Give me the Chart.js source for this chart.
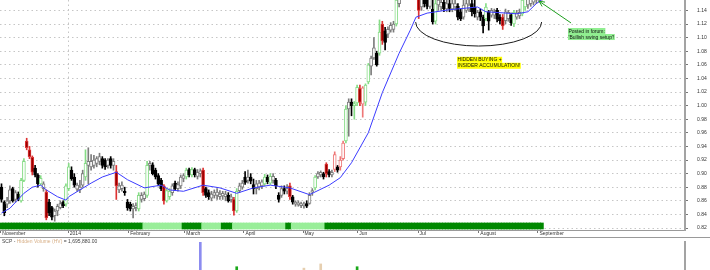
<!DOCTYPE html>
<html>
<head>
<meta charset="utf-8">
<script src="https://cdn.jsdelivr.net/npm/chart.js@4/dist/chart.umd.min.js"></script>
<style>
  body { margin: 0; background: #fff; }
  #wrap { width: 710px; height: 270px; overflow: hidden; }
  #price-box { position: relative; width: 710px; height: 237px; }
  #hv-box { position: relative; width: 710px; height: 33px; border-top: 1px solid #9a9a9a; box-sizing: border-box; }
</style>
</head>
<body>
<div id="wrap">
  <div id="price-box"><canvas id="price"></canvas></div>
  <div id="hv-box"><canvas id="hv"></canvas></div>
</div>
<script>
// daily bars, late Nov 2013 -> end Aug 2014
const opens = [
  .880,.858,.855,.860,.878,.862,.870,.860,.890,.948,
  .935,.924,.908,.898,.885,.878,.873,.858,.850,.838,
  .845,.850,.858,.855,.878,.905,.895,.877,.876,.883,
  .895,.912,.910,.912,.915,.918,.922,.920,.912,.922,
  .912,.903,.876,.878,.874,.858,.855,.848,.850,.848,
  .862,.863,.868,.912,.913,.905,.897,.890,.882,.860,
  .866,.872,.886,.878,.882,.893,.895,.906,.898,.906,
  .896,.900,.905,.878,.872,.864,.868,.868,.866,.867,
  .866,.868,.862,.862,.845,.875,.880,.895,.890,.895,
  .884,.878,.880,.882,.885,.895,.886,.890,.890,.868,
  .868,.878,.874,.882,.866,.855,.854,.853,.853,.856,
  .856,.873,.879,.895,.898,.900,.914,.903,.898,.906,
  .910,.910,.922,.948,.995,1.005,1.000,1.004,1.025,1.002,
  1.005,1.035,1.058,1.070,1.077,1.077,1.120,1.110,1.105,1.111,
  1.112,1.120,1.150,1.160,1.175,1.185,1.180,1.188,1.172,1.170,
  1.145,1.160,1.158,1.146,1.142,1.124,1.148,1.145,1.152,1.142,
  1.150,1.142,1.145,1.146,1.138,1.130,1.140,1.142,1.150,1.145,
  1.130,1.138,1.130,1.128,1.138,1.133,1.133,1.140,1.130,1.130,
  1.125,1.128,1.133,1.120,1.130,1.132,1.135,1.145,1.148,1.150,
  1.152,1.155,1.158,1.160
];
const highs = [
  .885,.860,.865,.882,.880,.875,.873,.893,.922,.952,
  .940,.926,.912,.900,.897,.888,.876,.862,.852,.848,
  .855,.860,.860,.885,.915,.910,.900,.886,.890,.905,
  .935,.938,.928,.927,.925,.930,.925,.922,.922,.925,
  .922,.912,.886,.888,.880,.862,.858,.856,.857,.872,
  .872,.873,.918,.918,.916,.908,.900,.893,.884,.878,
  .878,.885,.889,.888,.898,.900,.908,.908,.909,.908,
  .906,.907,.908,.880,.876,.874,.876,.878,.875,.874,
  .874,.872,.870,.865,.878,.886,.890,.903,.905,.900,
  .892,.890,.890,.891,.899,.898,.900,.900,.893,.872,
  .882,.882,.884,.886,.868,.860,.860,.858,.858,.860,
  .872,.878,.897,.903,.904,.902,.916,.906,.905,.932,
  .912,.925,.948,1.000,1.010,1.010,1.006,1.030,1.030,1.028,
  1.032,1.062,1.073,1.100,1.080,1.126,1.124,1.115,1.116,1.122,
  1.124,1.160,1.165,1.180,1.190,1.200,1.195,1.195,1.180,1.175,
  1.170,1.170,1.165,1.165,1.155,1.155,1.160,1.160,1.158,1.156,
  1.155,1.155,1.155,1.150,1.142,1.155,1.156,1.155,1.160,1.155,
  1.140,1.142,1.133,1.150,1.140,1.143,1.142,1.143,1.134,1.134,
  1.142,1.140,1.136,1.140,1.140,1.142,1.160,1.165,1.165,1.168,
  1.170,1.170,1.170,1.175
];
const lows = [
  .858,.838,.850,.856,.858,.858,.860,.858,.888,.935,
  .922,.898,.895,.880,.883,.874,.832,.838,.832,.830,
  .838,.848,.850,.852,.875,.890,.880,.874,.872,.880,
  .890,.885,.905,.908,.910,.913,.908,.906,.908,.908,
  .905,.862,.872,.874,.868,.846,.845,.835,.845,.845,
  .858,.860,.865,.905,.898,.892,.882,.875,.855,.858,
  .862,.868,.875,.874,.878,.888,.892,.895,.895,.895,
  .892,.895,.868,.865,.862,.860,.864,.862,.862,.862,
  .860,.858,.858,.839,.843,.872,.877,.884,.886,.885,
  .870,.870,.876,.878,.882,.885,.884,.886,.878,.858,
  .865,.870,.870,.862,.855,.852,.852,.850,.849,.850,
  .855,.868,.876,.893,.895,.892,.895,.895,.895,.903,
  .902,.905,.920,.945,.955,.985,.980,1.000,1.000,.983,
  1.000,1.032,1.045,1.068,1.058,1.074,1.090,1.082,1.100,1.108,
  1.108,1.117,1.145,1.158,1.165,1.175,1.170,1.165,1.158,1.128,
  1.140,1.145,1.142,1.143,1.120,1.120,1.140,1.140,1.138,1.138,
  1.138,1.138,1.140,1.126,1.125,1.127,1.137,1.138,1.132,1.130,
  1.126,1.125,1.107,1.125,1.111,1.130,1.128,1.123,1.120,1.112,
  1.120,1.124,1.118,1.116,1.127,1.128,1.132,1.140,1.143,1.146,
  1.148,1.150,1.152,1.155
];
const closes = [
  .862,.842,.860,.876,.860,.872,.862,.890,.918,.938,
  .925,.902,.898,.885,.893,.885,.835,.842,.836,.845,
  .852,.856,.853,.882,.910,.892,.883,.883,.880,.900,
  .915,.918,.918,.920,.922,.925,.912,.910,.920,.912,
  .918,.882,.882,.883,.872,.850,.848,.852,.853,.868,
  .868,.870,.912,.915,.900,.895,.885,.878,.860,.875,
  .874,.882,.878,.884,.895,.897,.905,.898,.906,.898,
  .902,.904,.872,.868,.866,.870,.872,.873,.870,.871,
  .870,.860,.866,.845,.874,.882,.886,.887,.895,.889,
  .878,.885,.886,.888,.895,.888,.896,.896,.882,.862,
  .878,.874,.878,.866,.858,.858,.857,.856,.855,.852,
  .868,.875,.895,.900,.902,.895,.900,.898,.902,.928,
  .905,.920,.945,.995,1.005,1.000,1.003,1.027,1.005,1.026,
  1.030,1.060,1.070,1.085,1.060,1.108,1.095,1.093,1.112,1.118,
  1.120,1.155,1.158,1.175,1.185,1.180,1.190,1.170,1.165,1.140,
  1.165,1.150,1.146,1.158,1.123,1.150,1.155,1.152,1.142,1.150,
  1.143,1.150,1.150,1.130,1.128,1.148,1.150,1.148,1.138,1.135,
  1.137,1.130,1.117,1.145,1.124,1.140,1.138,1.127,1.125,1.117,
  1.138,1.137,1.122,1.137,1.136,1.137,1.155,1.160,1.158,1.160,
  1.162,1.165,1.165,1.168
];
// bars the chart paints green / red (volume signal)
const greenIdx = [7,8,14,23,24,30,49,52,59,60,66,68,84,94,96,112,123,126,127,130,131,135,141,155,173,183,186,187];
const redIdx = [9,10,11,16,41,58,72,83,103,116,119,121,122,128,129,136,149,179];

// moving average, read at these bar positions
const maIdx = [0,3,8,11,14,16,20,23,24,28,32,36,41,45,51,57,60,65,72,78,84,90,96,103,110,117,121,125,131,136,142,146,148,152,160,170,173,184,188,191,193];
const maVal = [.842,.849,.871,.880,.883,.876,.866,.861,.866,.876,.886,.895,.902,.891,.879,.883,.876,.874,.883,.879,.871,.879,.883,.879,.869,.883,.894,.916,.960,1.019,1.077,1.111,1.130,1.136,1.141,1.145,1.138,1.135,1.138,1.150,1.156];

// indicator band: [firstBar, lastBar, 1 = strong / 0 = weak]
const bandRuns = [[0,50,1],[51,64,0],[65,71,1],[72,78,0],[79,82,1],[83,101,0],[102,103,1],[104,115,0],[116,193,1]];

// axis ticks
const monthLabels = ['November','2014','February','March','April','May','Jun','Jul','August','September'];
const monthTickIdx = [-0.2, 23.9, 45.5, 65.5, 86.6, 107.7, 127.3, 148.75, 170.5, 191.6];
const yTickVals = [0.82,0.84,0.86,0.88,0.90,0.92,0.94,0.96,0.98,1.00,1.02,1.04,1.06,1.08,1.10,1.12,1.14];

// hidden volume panel
const hvIdx = [71, 84, 108, 114, 127];
const hvVal = [3.0, 0.35, 0.2, 0.65, 0.35];
const hvTone = ['b', 'g', 't', 't', 'g'];
const hvLatest = '1,695,880.00';

const X_MIN = -0.536, X_MAX = 244.1;
const Y_MIN = 0.81706, Y_MAX = 1.1553;
const FONT = '"Liberation Sans", Arial, sans-serif';

Chart.defaults.font.family = FONT;
Chart.defaults.font.size = 5;
Chart.defaults.color = '#333';
Chart.defaults.animation = false;
Chart.defaults.plugins.legend.display = false;
Chart.defaults.plugins.tooltip.enabled = false;

const PAL = {
  k: { edge: '#7c7c7c', solid: '#000000', solidEdge: '#000000' },
  g: { edge: '#86dc86', solid: '#1f9a1f', solidEdge: '#1f9a1f' },
  r: { edge: '#ee7777', solid: '#990000', solidEdge: '#dd3333' }
};
const toneOf = i => greenIdx.includes(i) ? 'g' : (redIdx.includes(i) ? 'r' : 'k');
const isFilled = i => closes[i] < opens[i];

const bodyData = opens.map((o, i) => ({ x: i, y: [o, closes[i]] }));
const wickData = opens.map((o, i) => ({ x: i, y: [lows[i], highs[i]] }));
const bodyFill = opens.map((o, i) => isFilled(i) ? PAL[toneOf(i)].solid : '#ffffff');
const bodyEdge = opens.map((o, i) => isFilled(i) ? PAL[toneOf(i)].solidEdge : PAL[toneOf(i)].edge);

const bandData = [], bandColor = [];
bandRuns.forEach(([a, b, s]) => {
  for (let i = a; i <= b; i++) {
    bandData.push({ x: i, y: [0.8185, 0.8274] });
    bandColor.push(s ? '#008800' : '#99ee99');
  }
});

// keep the axes from reserving room for half-labels
const noPad = s => { s.paddingTop = 0; s.paddingBottom = 0; s.paddingLeft = 0; s.paddingRight = 0; };

// annotations drawn on top: bowl, notes, arrow
const annotate = {
  id: 'annotate',
  afterDatasetsDraw(chart) {
    const { ctx, scales: { x, y } } = chart;
    ctx.save();
    const cx = x.getPixelForValue(170.4), cy = y.getPixelForValue(1.1229);
    const rx = x.getPixelForValue(170.4 + 22.5) - cx;
    const ry = y.getPixelForValue(1.1229 - 0.0353) - cy;
    ctx.strokeStyle = '#1a1a1a';
    ctx.lineWidth = 1;
    ctx.beginPath();
    ctx.ellipse(cx, cy, rx, ry, 0, 0, Math.PI);
    ctx.stroke();

    // arrow to the last bar
    const x0 = x.getPixelForValue(203.4), y0 = y.getPixelForValue(1.1215);
    const x1 = x.getPixelForValue(192.0), y1 = y.getPixelForValue(1.1535);
    const ang = Math.atan2(y1 - y0, x1 - x0);
    ctx.strokeStyle = '#1e9e1e';
    ctx.beginPath();
    ctx.moveTo(x0, y0); ctx.lineTo(x1, y1);
    ctx.moveTo(x1, y1); ctx.lineTo(x1 - 6 * Math.cos(ang - 0.45), y1 - 6 * Math.sin(ang - 0.45));
    ctx.moveTo(x1, y1); ctx.lineTo(x1 - 6 * Math.cos(ang + 0.45), y1 - 6 * Math.sin(ang + 0.45));
    ctx.stroke();

    const tag = (lines, ix, py, bg) => {
      const px = x.getPixelForValue(ix), top = y.getPixelForValue(py);
      ctx.font = '5px ' + FONT;
      ctx.textBaseline = 'middle';
      lines.forEach((t, k) => {
        const w = ctx.measureText(t).width;
        ctx.fillStyle = bg;
        ctx.fillRect(px, top + k * 6, w + 1, 6);
        ctx.fillStyle = '#111';
        ctx.fillText(t, px + 0.5, top + k * 6 + 3.2);
      });
    };
    tag(['HIDDEN BUYING +', 'INSIDER ACCUMULATION!'], 162.7, 1.0718, '#ffff00');
    tag(['Posted in forum:', "'Bullish swing setup'!"], 202.3, 1.1141, '#90ee90');
    ctx.restore();
  }
};

new Chart(document.getElementById('price'), {
  type: 'bar',
  data: {
    datasets: [
      { type: 'line', data: maIdx.map((v, k) => ({ x: v, y: maVal[k] })), borderColor: '#3b3bff', borderWidth: 1, pointRadius: 0, fill: false, tension: 0, order: 1 },
      { data: bodyData, backgroundColor: bodyFill, borderColor: bodyEdge, borderWidth: 1, borderSkipped: false, barThickness: 3, minBarLength: 1, grouped: false, order: 2 },
      { data: wickData, backgroundColor: bodyEdge, barThickness: 1, grouped: false, order: 3 },
      { data: bandData, backgroundColor: bandColor, barThickness: 3, grouped: false, order: 4 }
    ]
  },
  options: {
    responsive: true,
    maintainAspectRatio: false,
    layout: { padding: 0 },
    scales: {
      x: {
        type: 'linear', min: X_MIN, max: X_MAX, offset: false,
        afterBuildTicks: s => { s.ticks = monthTickIdx.map(v => ({ value: v })); },
        afterFit: s => { s.height = 7; noPad(s); },
        ticks: { callback: (v, k) => ' ' + monthLabels[k], align: 'start', padding: -2, autoSkip: false, maxRotation: 0, color: '#333' },
        grid: { offset: false, color: c => (c.tick && monthLabels[c.index] === '2014') ? '#c6c6c6' : 'rgba(0,0,0,0)', tickColor: '#777', tickLength: 3 },
        border: { color: '#9a9a9a', width: 1, dash: [1.5, 3] }
      },
      y: {
        position: 'right', min: Y_MIN, max: Y_MAX,
        afterBuildTicks: s => { s.ticks = yTickVals.map(v => ({ value: v })); },
        afterFit: s => { s.width = 25; noPad(s); },
        ticks: { callback: v => v.toFixed(2), padding: 9, color: '#333', autoSkip: false },
        grid: { color: '#c6c6c6', tickColor: '#777', tickLength: 3 },
        border: { color: '#a3a3a3', width: 2, dash: [1.5, 3] }
      }
    }
  },
  plugins: [annotate]
});

// lower panel title
const hvTitle = {
  id: 'hvTitle',
  afterDraw(chart) {
    const ctx = chart.ctx;
    ctx.save();
    ctx.font = '5px ' + FONT;
    ctx.textBaseline = 'middle';
    let px = 2;
    [['SCP - ', '#444'], ['Hidden Volume (HV)', '#d8b088'], [' = ' + hvLatest, '#444']].forEach(([t, c]) => {
      ctx.fillStyle = c;
      ctx.fillText(t, px, 3.5);
      px += ctx.measureText(t).width;
    });
    ctx.restore();
  }
};

const HV_COL = { b: '#8c8cf0', g: '#1aa81a', t: '#e6cfb0' };
new Chart(document.getElementById('hv'), {
  type: 'bar',
  data: {
    datasets: [{
      data: hvIdx.map((v, k) => ({ x: v, y: hvVal[k] })),
      backgroundColor: hvTone.map(t => HV_COL[t]),
      barThickness: 2, grouped: false
    }]
  },
  options: {
    responsive: true,
    maintainAspectRatio: false,
    layout: { padding: { top: 4 } },
    scales: {
      x: { type: 'linear', min: X_MIN, max: X_MAX, offset: false, display: false },
      y: {
        position: 'right', min: 0, max: 3,
        afterFit: s => { s.width = 25; noPad(s); },
        ticks: { display: false },
        grid: { display: false },
        border: { color: '#a3a3a3', width: 2 }
      }
    }
  },
  plugins: [hvTitle]
});
</script>
</body>
</html>
